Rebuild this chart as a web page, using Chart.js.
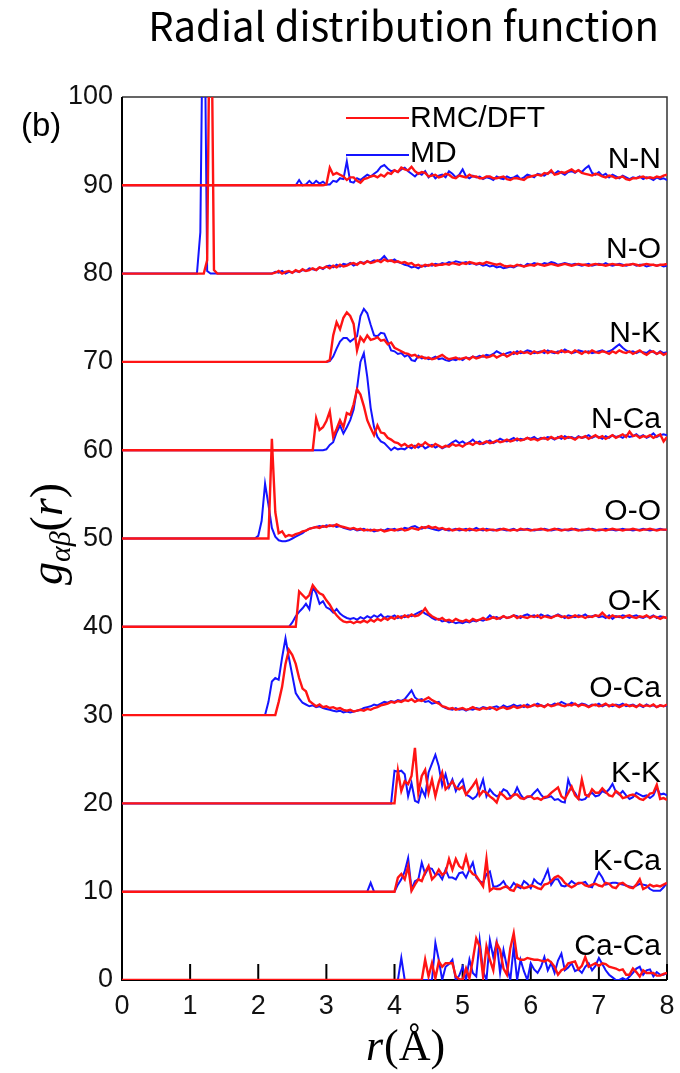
<!DOCTYPE html>
<html>
<head>
<meta charset="utf-8">
<script src="https://cdn.jsdelivr.net/npm/chart.js@4.4.1/dist/chart.umd.min.js"></script>
<style>
  html, body { margin: 0; padding: 0; background: #fff; }
  #wrap { width: 680px; height: 1073px; }
</style>
</head>
<body>
<div id="wrap"><canvas id="rdf" width="680" height="1073"></canvas></div>
<script>
// sampling step of every curve (Å)
const STEP = 0.05;

const pairs = ['N-N', 'N-O', 'N-K', 'N-Ca', 'O-O', 'O-K', 'O-Ca', 'K-K', 'K-Ca', 'Ca-Ca'];
const offsets = [90, 80, 70, 60, 50, 40, 30, 20, 10, 0];
const xTicks = [0, 1, 2, 3, 4, 5, 6, 7, 8];
const yTicks = [0, 10, 20, 30, 40, 50, 60, 70, 80, 90, 100];

// each curve: list of [start r, g values every STEP], baseline (g = 0) before it
const NN_RMC = [[2.9, [0, 0,
  0.1, 2.0, 1.2, 1.4, 1.2, 1.0, 0.6, 0.9, 0.9, 0.5, 0.3, 0.7, 0.8, 1.0, 1.1, 0.9, 1.2, 1.0, 1.4, 1.3,
  1.7, 1.5, 2.0, 1.8, 1.7, 2.1, 1.6, 1.3, 1.5, 1.4, 1.0, 1.1, 1.2, 0.9, 1.0, 1.3, 1.2, 0.9, 0.8, 1.1,
  1.0, 0.9, 1.2, 1.0, 1.0, 0.8, 0.8, 1.0, 1.0, 0.8, 0.8, 0.9, 1.0, 0.7, 0.6, 0.8, 0.8, 0.7, 0.6, 0.9,
  1.0, 1.1, 1.2, 1.1, 1.4, 1.3, 1.7, 1.2, 1.3, 1.5, 1.4, 1.6, 1.8, 1.5, 1.7, 1.4, 1.3, 1.2, 1.1, 1.3,
  1.2, 1.0, 0.9, 1.1, 1.0, 0.8, 0.9, 1.0, 0.7, 0.6, 0.8, 0.8, 0.9, 1.0, 0.8, 0.9, 0.8, 1.0, 0.9, 1.1,
  1.2]]];
const NN_MD = [[2.5, [0, 0, 0.6, 0, 0.1, 0.5, 0.1, 0.5, 0.2, 0.4,
  0.1, 0.1, 0.5, 0.4, 0.8, 0.7, 2.7, 0.4, 0.3, 0.8, 0.6, 0.9, 1.2, 1.0, 1.3, 1.6, 2.1, 2.3, 1.9, 1.6,
  1.7, 1.5, 1.8, 2.0, 1.6, 1.3, 1.0, 1.4, 1.2, 1.6, 0.9, 1.3, 0.8, 1.1, 1.2, 0.9, 1.6, 1.3, 0.9, 1.2,
  1.8, 1.0, 0.8, 1.1, 0.9, 1.0, 0.7, 0.9, 0.8, 0.6, 1.0, 0.8, 0.7, 1.0, 0.8, 0.9, 1.1, 0.7, 0.9, 1.2,
  1.1, 0.9, 1.3, 1.2, 1.1, 1.4, 1.5, 1.3, 1.6, 1.4, 1.2, 1.5, 1.6, 1.4, 1.7, 1.5, 1.9, 2.2, 1.4, 1.2,
  1.5, 1.1, 1.3, 0.9, 1.2, 1.0, 0.8, 1.1, 0.9, 0.7, 0.9, 0.8, 1.0, 0.7, 0.9, 0.8, 0.6, 0.9, 0.7, 0.8,
  0.6]]];

const NO_RMC = [[1.2, [0, 1.5, 40, 0.4, 0]], [2.2, [0, 0.1, 0.3, 0.0, 0.2, 0.3, 0.1, 0.4, 0.2, 0.5, 0.3, 0.4, 0.6, 0.4, 0.7, 0.6,
  0.8, 0.6, 0.9, 0.7, 1.0, 0.8, 0.9, 1.1, 1.2, 1.0, 1.3, 1.1, 1.4, 1.2, 1.3, 1.5, 1.3, 1.6, 1.4, 1.5,
  1.3, 1.4, 1.2, 1.3, 1.1, 1.2, 0.9, 1.0, 0.8, 1.0, 0.9, 1.1, 0.9, 1.0, 1.0, 1.1, 1.0, 1.2, 1.1, 1.0,
  1.2, 1.1, 1.3, 1.2, 1.1, 1.2, 1.1, 1.3, 1.2, 1.1, 1.0, 1.1, 0.9, 0.8, 0.9, 0.8, 1.0, 0.9, 0.8, 0.9,
  1.0, 0.9, 1.1, 1.0, 0.9, 1.0, 1.1, 1.0, 0.9, 1.0, 1.1, 1.0, 0.9, 1.0, 1.1, 1.0, 1.0, 0.9, 1.0, 1.1,
  1.0, 1.0, 0.9, 1.0, 1.1, 1.0, 1.0, 0.9, 1.0, 1.0, 1.1, 1.0, 0.9, 1.0, 1.1, 1.0, 1.0, 0.9, 1.0, 1.0,
  1.1]]];
const NO_MD = [[1.1, [0, 4.7, 40, 0.3, 0]], [2.2, [0, 0.2, 0.1, 0.3, 0.0, 0.2, 0.1, 0.3, 0.2, 0.4, 0.3, 0.6, 0.5, 0.4, 0.7, 0.5,
  0.8, 0.9, 0.7, 1.0, 0.8, 1.1, 1.0, 1.2, 0.9, 1.1, 1.3, 1.2, 1.4, 1.3, 1.5, 1.4, 1.6, 2.0, 1.5, 1.4,
  1.6, 1.3, 1.2, 1.0, 0.9, 0.7, 0.8, 0.6, 0.9, 0.8, 1.0, 0.9, 1.1, 1.0, 1.2, 1.1, 1.3, 1.2, 1.4, 1.3,
  1.2, 1.3, 1.1, 1.2, 1.0, 1.1, 0.9, 1.0, 0.8, 0.9, 0.7, 0.8, 0.6, 0.7, 0.8, 0.7, 0.9, 1.0, 0.8, 1.1,
  1.0, 1.2, 1.1, 1.0, 1.2, 1.1, 1.3, 1.2, 1.0, 1.1, 1.2, 1.1, 1.0, 1.1, 1.0, 0.9, 1.0, 1.1, 0.9, 1.0,
  1.1, 1.0, 1.2, 1.0, 0.9, 1.0, 1.1, 1.0, 0.9, 1.0, 1.1, 0.9, 1.0, 1.0, 0.8, 0.9, 1.0, 0.9, 1.0, 0.8,
  0.9]]];

const NK_RMC = [[3.0, [0, 0.2, 3.0, 4.5, 3.7, 5.0, 5.6, 5.2, 4.3, 1.3, 2.8, 2.3, 3.0, 2.5, 2.6, 2.8, 2.4, 2.5, 2.0, 2.2,
  1.6, 1.4, 1.2, 1.0, 0.9, 0.7, 0.8, 0.5, 0.6, 0.4, 0.5, 0.3, 0.4, 0.6, 0.8, 0.5, 0.3, 0.4, 0.5, 0.3,
  0.4, 0.5, 0.3, 0.6, 0.4, 0.5, 0.7, 0.5, 0.6, 0.8, 0.5, 0.7, 0.9, 0.6, 0.8, 1.1, 0.9, 1.2, 1.0, 1.1,
  0.9, 1.2, 1.0, 1.1, 1.3, 1.0, 1.2, 1.1, 1.0, 1.3, 1.1, 1.2, 1.0, 1.3, 1.1, 0.9, 1.2, 1.0, 1.3, 1.1,
  1.0, 1.2, 1.1, 0.9, 1.2, 1.0, 1.3, 1.1, 1.0, 1.2, 0.9, 1.1, 1.3, 1.0, 0.8, 1.1, 1.2, 0.9, 1.1, 0.8,
  1.0]]];
const NK_MD = [[3.0, [0, 0.1, 0.6, 1.5, 2.3, 2.7, 2.7, 2.3, 2.6, 2.9, 5.2, 6.0, 5.5, 4.2, 3.0, 2.9, 3.3, 3.2, 2.3, 1.3,
  1.2, 0.9, 1.0, 0.6, 0.8, 0.2, 0.1, 0.7, 0.4, 0.5, 0.3, 0.4, 0.6, 0.3, 0.4, 0.2, 0.1, 0.3, 0.2, 0.4,
  0.2, 0.5, 0.4, 0.6, 0.5, 0.7, 0.6, 0.8, 0.7, 0.9, 1.2, 1.0, 0.8, 1.0, 1.1, 0.9, 1.2, 1.0, 1.1, 1.3,
  1.2, 1.0, 1.1, 1.2, 1.0, 1.3, 1.1, 1.0, 1.2, 1.1, 1.4, 1.2, 1.0, 1.1, 1.3, 1.2, 1.1, 1.2, 1.0, 1.1,
  1.2, 1.3, 1.1, 1.2, 1.4, 1.7, 2.0, 1.6, 1.3, 1.1, 1.2, 1.0, 1.2, 1.1, 1.0, 1.3, 1.1, 0.9, 1.2, 1.0,
  1.1]]];

const NCa_RMC = [[2.8, [0, 3.6, 2.3, 2.6,
  3.3, 4.4, 1.5, 2.4, 3.4, 2.6, 4.2, 4.0, 5.2, 6.9, 6.3, 5.0, 3.4, 2.5, 1.7, 2.8, 2.0, 1.9, 1.4, 1.2,
  0.9, 0.8, 0.5, 0.7, 0.4, 0.6, 0.3, 0.7, 0.5, 0.9, 0.6, 0.4, 0.7, 0.5, 0.3, 0.5, 0.4, 0.7, 0.5, 0.6,
  0.4, 0.7, 0.8, 0.6, 0.9, 0.7, 0.8, 1.0, 0.8, 0.9, 1.1, 0.9, 1.0, 1.2, 1.0, 1.1, 1.3, 1.1, 1.2, 1.4,
  1.2, 1.3, 1.1, 1.3, 1.4, 1.2, 1.5, 1.3, 1.4, 1.6, 1.3, 1.5, 1.4, 1.2, 1.5, 1.4, 1.6, 1.3, 1.5, 1.7,
  1.4, 1.6, 1.3, 1.5, 1.7, 1.4, 1.6, 1.8, 1.5, 2.1, 1.6, 1.7, 1.4, 1.6, 1.5, 1.7, 1.4, 1.6, 1.8, 1.0,
  1.5]]];
const NCa_MD = [[2.95, [0,
  0.1, 0.6, 0.9, 2.0, 2.8, 1.9, 2.6, 3.4, 4.6, 7.0, 10.0, 11.0, 8.3, 4.8, 2.6, 1.5, 1.0, 0.8, 0.4, 0.0,
  0.3, 0.1, 0.2, 0.1, 0.4, 0.2, 0.5, 0.3, 0.6, 0.2, 0.4, 0.6, 0.3, 0.5, 0.2, 0.4, 0.6, 0.9, 1.1, 0.8,
  1.0, 0.7, 0.9, 1.2, 0.8, 1.0, 0.7, 0.9, 1.1, 0.8, 1.0, 1.3, 1.1, 1.0, 1.2, 1.4, 1.1, 1.3, 1.2, 1.4,
  1.3, 1.5, 1.2, 1.4, 1.3, 1.5, 1.4, 1.2, 1.5, 1.3, 1.6, 1.4, 1.5, 1.3, 1.6, 1.4, 1.5, 1.7, 1.4, 1.6,
  1.5, 1.3, 1.6, 1.4, 1.7, 1.5, 1.6, 1.4, 1.7, 1.5, 1.6, 1.8, 1.5, 1.7, 1.4, 1.6, 1.9, 1.5, 1.7, 1.8,
  1.7]]];

const OO_RMC = [[2.1, [0, 0, 11.3, 3.0, 0.6, 0.8, 0.2, 0.4, 0.3, 0.5, 0.6, 0.8, 0.9, 1.1, 1.2, 1.3, 1.2, 1.4,
  1.3, 1.5, 1.4, 1.6, 1.4, 1.3, 1.2, 1.1, 1.2, 1.0, 1.1, 0.9, 1.0, 0.9, 1.0, 0.9, 1.0, 0.8, 0.9, 1.0,
  0.9, 1.0, 1.1, 0.9, 1.0, 1.2, 1.1, 1.0, 1.3, 1.2, 1.4, 1.2, 1.3, 1.1, 1.2, 1.0, 1.1, 0.9, 1.0, 1.1,
  1.0, 0.9, 1.1, 1.0, 0.9, 1.0, 1.1, 0.9, 1.0, 1.0, 0.9, 1.0, 1.1, 1.0, 0.9, 1.0, 0.9, 1.1, 1.0, 1.0,
  0.9, 1.0, 1.0, 1.1, 1.0, 0.9, 1.0, 1.1, 1.0, 0.9, 1.0, 1.0, 1.1, 1.0, 0.9, 1.0, 1.0, 1.1, 1.0, 0.9,
  1.0, 1.0, 0.9, 1.0, 1.1, 1.0, 1.0, 0.9, 1.0, 1.0, 1.1, 1.0, 0.9, 1.0, 1.0, 1.1, 1.0, 0.9, 1.0, 1.0,
  1.0]]];
const OO_MD = [[1.95, [0,
  0.3, 2.0, 6.2, 3.8, 1.2, 0.2, -0.2, -0.3, -0.3, -0.2, 0.0, 0.2, 0.4, 0.6, 0.9, 1.1, 1.2, 1.3, 1.4, 1.3,
  1.5, 1.4, 1.5, 1.3, 1.4, 1.2, 1.1, 1.0, 1.1, 0.9, 1.0, 1.1, 0.9, 1.0, 0.8, 0.9, 1.0, 0.9, 1.1, 1.0,
  1.1, 0.9, 1.0, 1.2, 1.1, 1.3, 1.4, 1.2, 1.1, 1.3, 1.2, 1.1, 1.0, 0.9, 1.1, 1.0, 0.9, 1.0, 1.1, 0.9,
  1.0, 1.1, 0.9, 1.0, 1.2, 1.0, 0.9, 1.1, 1.0, 0.9, 1.0, 1.1, 1.0, 0.9, 1.0, 1.1, 0.9, 1.0, 1.0, 1.1,
  1.0, 0.9, 1.0, 1.0, 1.1, 1.0, 0.9, 1.0, 1.1, 1.0, 1.0, 0.9, 1.0, 1.1, 1.0, 0.9, 1.0, 1.0, 1.1, 1.0,
  0.9, 1.0, 1.1, 1.0, 1.0, 0.9, 1.0, 1.1, 1.0, 1.0, 0.9, 1.0, 1.0, 1.1, 1.0, 0.9, 1.0, 1.0, 1.1, 1.0,
  1.0]]];

const OK_RMC = [[2.55, [0, 4.0, 3.6, 3.2, 3.6, 4.7, 4.2, 3.8, 3.6,
  3.0, 2.5, 1.8, 1.3, 0.9, 0.6, 0.5, 0.6, 0.4, 0.6, 0.5, 0.7, 0.5, 0.8, 0.6, 0.9, 0.7, 1.0, 0.8, 1.1,
  0.9, 1.2, 1.0, 1.3, 1.1, 1.4, 1.2, 1.3, 1.6, 2.1, 1.5, 1.2, 1.0, 0.8, 1.0, 0.7, 0.8, 0.6, 0.9, 0.7,
  0.6, 0.8, 0.6, 0.9, 0.7, 0.8, 1.0, 0.8, 0.9, 1.1, 0.9, 1.0, 1.2, 1.0, 1.1, 1.3, 1.0, 1.2, 1.1, 1.0,
  1.2, 1.1, 1.3, 1.0, 1.2, 1.1, 1.0, 1.2, 1.3, 1.1, 1.2, 1.0, 1.1, 1.3, 1.1, 1.2, 1.0, 1.2, 1.1, 1.3,
  1.2, 1.6, 1.2, 1.0, 1.3, 1.1, 1.2, 1.0, 1.2, 1.3, 1.1, 1.0, 1.2, 1.1, 1.3, 1.0, 1.2, 1.1, 0.9, 1.1,
  1.0]]];
const OK_MD = [[2.45, [0, 0.5, 1.2, 1.7, 2.1, 2.6, 2.0, 4.5, 3.8, 2.6, 2.9,
  2.2, 2.0, 1.6, 2.0, 1.5, 1.2, 1.0, 0.9, 1.0, 0.8, 1.1, 0.9, 1.2, 1.0, 1.3, 1.1, 1.4, 1.0, 1.2, 1.1,
  1.3, 1.0, 1.2, 1.1, 1.3, 1.2, 1.4, 1.6, 1.8, 1.5, 1.3, 1.0, 0.8, 0.9, 0.6, 0.7, 0.5, 0.6, 0.4, 0.5,
  0.4, 0.6, 0.5, 0.7, 0.6, 0.8, 0.7, 0.9, 1.3, 1.0, 1.1, 0.9, 1.2, 1.0, 1.1, 1.3, 1.2, 1.0, 1.3, 1.4,
  1.2, 1.3, 1.1, 1.4, 1.2, 1.3, 1.1, 1.2, 1.4, 1.2, 1.0, 1.3, 1.2, 1.1, 1.3, 1.2, 1.4, 1.1, 1.2, 1.3,
  1.1, 1.2, 1.0, 1.3, 0.9, 1.2, 1.1, 1.3, 1.2, 1.0, 1.2, 1.3, 1.1, 1.0, 1.2, 1.1, 1.3, 1.0, 1.2, 1.1,
  1.0]]];

const OCa_RMC = [[2.25, [0, 1.5, 3.2, 5.8, 7.4, 6.8, 5.8, 4.2, 3.0, 2.7, 1.6, 1.3, 1.0, 1.2, 0.9,
  1.0, 0.8, 0.9, 0.7, 0.8, 0.6, 0.5, 0.6, 0.4, 0.5, 0.6, 0.5, 0.7, 0.6, 0.8, 0.9, 1.1, 1.2, 1.3, 1.5,
  1.4, 1.6, 1.5, 1.7, 1.6, 1.8, 1.5, 1.7, 1.6, 1.8, 2.0, 1.7, 1.5, 1.3, 1.0, 0.9, 0.7, 0.8, 0.6, 0.7,
  0.8, 0.6, 0.7, 0.9, 0.7, 0.6, 0.8, 0.7, 0.9, 0.8, 0.6, 0.8, 0.9, 0.7, 0.8, 1.0, 0.8, 0.9, 1.1, 0.9,
  1.0, 1.2, 1.0, 1.1, 0.9, 1.2, 1.0, 1.1, 1.3, 1.1, 1.0, 1.2, 1.1, 1.3, 1.0, 1.2, 1.1, 0.9, 1.1, 1.2,
  1.0, 1.1, 1.3, 1.0, 1.2, 1.1, 0.9, 1.1, 1.2, 1.0, 1.1, 0.9, 1.2, 1.0, 1.1, 1.0, 1.2, 0.9, 1.1, 1.0,
  1.2]]];
const OCa_MD = [[2.1, [0, 1.5, 3.8, 4.2, 4.0, 6.5, 8.7, 6.5, 4.5, 2.5, 1.9, 1.4, 1.2, 1.0, 1.1, 0.9, 1.0, 0.8,
  0.7, 0.6, 0.5, 0.4, 0.5, 0.3, 0.4, 0.3, 0.4, 0.5, 0.6, 0.8, 0.9, 1.0, 1.2, 1.1, 1.3, 1.5, 1.4, 1.6,
  1.5, 1.7, 1.6, 1.8, 2.3, 2.8, 2.0, 1.7, 1.8, 1.5, 1.6, 1.3, 1.4, 1.5, 1.0, 0.8, 0.7, 0.6, 0.8, 0.6,
  0.7, 0.5, 0.7, 0.6, 0.8, 0.7, 0.9, 0.8, 0.7, 0.9, 1.0, 0.8, 1.1, 0.9, 1.0, 1.2, 1.0, 1.1, 0.9, 1.2,
  1.0, 1.1, 1.3, 1.1, 1.0, 1.2, 1.1, 1.3, 1.2, 1.5, 1.3, 1.1, 1.4, 1.2, 1.1, 1.3, 1.2, 1.0, 1.2, 1.1,
  1.3, 1.0, 1.2, 1.1, 1.0, 1.2, 1.1, 1.3, 1.0, 1.1, 1.2, 1.0, 1.1, 0.9, 1.2, 1.0, 1.1, 0.9, 1.1, 1.0,
  1.1]]];

const KK_RMC = [[4.0, [
  0, 3.7, 1.4, 2.5, 2.2, 3.1, 6.3, 1.2, 3.1, 3.8, 1.2, 2.7, 0.8, 2.4, 3.5, 1.6, 2.0, 2.5, 1.8, 1.6,
  1.9, 1.0, 1.5, 2.0, 2.6, 0.9, 1.4, 1.2, 0.8, 0.5, 0.1, 1.2, 0.9, 0.5, 0.6, 1.0, 1.0, 0.6, 0.5, 0.8,
  0.8, 0.5, 0.6, 0.4, 0.7, 0.8, 1.2, 1.5, 1.8, 0.8, 0.5, 1.2, 1.9, 0.9, 0.5, 2.7, 1.0, 0.8, 1.6, 1.2,
  1.2, 1.7, 1.3, 0.9, 0.8, 1.4, 1.1, 0.6, 0.7, 0.9, 1.0, 0.8, 0.5, 0.4, 0.7, 1.1, 1.2, 2.1, 0.5, 0.6,
  0.4]]];
const KK_MD = [[3.95, [0,
  3.7, 3.6, 3.7, 3.3, 0.8, 2.3, 0.3, 0.1, 1.6, 0.8, 3.5, 4.5, 5.5, 4.2, 2.0, 3.3, 1.8, 2.7, 1.4, 2.2,
  2.7, 1.0, 0.8, 0.5, 0.8, 1.6, 2.7, 0.8, 1.6, 1.1, 0.8, 1.0, 1.6, 1.4, 0.8, 0.9, 1.8, 1.0, 0.5, 0.7,
  0.8, 1.2, 1.6, 1.0, 0.6, 0.7, 0.8, 0.4, 0.5, 0.2, 0.1, 2.7, 1.6, 1.2, 0.5, 0.4, 0.5, 1.0, 1.2, 0.8,
  0.9, 1.4, 1.2, 1.6, 2.2, 1.3, 1.0, 1.4, 0.9, 0.5, 0.7, 1.2, 1.0, 0.8, 0.9, 0.6, 0.9, 1.8, 1.0, 1.1,
  0.9]]];

const KCa_RMC = [[4.0, [
  0, 1.6, 2.0, 1.4, 2.9, 0.1, 0.8, 1.4, 1.2, 2.2, 2.9, 1.4, 1.8, 2.5, 1.9, 2.2, 3.7, 2.5, 3.7, 2.9,
  2.6, 4.0, 2.5, 2.0, 1.8, 1.2, 0.6, 3.7, 0.1, 0.4, 0.3, 0.3, 0.5, 0.6, 0.2, 0.1, 0.8, 0.6, 0.4, 0.5,
  0.7, 0.6, 0.4, 0.3, 0.8, 0.9, 1.2, 1.6, 1.8, 1.5, 1.0, 0.7, 0.5, 0.7, 1.0, 1.0, 0.7, 0.6, 0.8, 0.9,
  0.7, 0.6, 1.0, 0.9, 0.5, 0.4, 0.9, 1.0, 0.7, 0.5, 0.4, 0.8, 1.4, 0.3, 0.5, 0.8, 0.6, 0.7, 0.6, 0.8,
  1.0]]];
const KCa_MD = [[3.6, [0, 1.0, 0]], [4.0, [
  0, 0.8, 1.4, 2.3, 3.8, 0.3, 1.2, 1.4, 3.3, 2.0, 2.7, 2.6, 1.9, 2.0, 1.4, 2.5, 1.6, 1.6, 1.4, 2.1,
  2.2, 1.6, 2.5, 3.3, 1.6, 1.2, 1.0, 2.0, 2.3, 0.6, 0.6, 0.8, 1.2, 0.5, 0.4, 1.0, 0.6, 0.4, 1.2, 0.9,
  0.4, 1.4, 1.0, 0.8, 1.6, 2.5, 0.8, 1.4, 1.4, 0.7, 0.6, 0.8, 1.2, 0.9, 0.9, 1.0, 1.1, 0.6, 0.5, 1.4,
  2.2, 1.6, 0.8, 0.9, 1.0, 1.0, 0.9, 0.8, 0.7, 0.6, 0.5, 0.7, 0.9, 0.8, 0.7, 0.3, 0.1, 0.1, 0.1, 0.5,
  1.0]]];

const CaCa_RMC = [[4.4, [0, 2.3, 0.4, 1.9, 0.2, 2.1, 1.5, 1.9, 1.9, 1.9, 0.4, 0.1,
  0, 1.3, 0.2, 2.3, 4.7, 3.8, 0.4, 3.8, 2.3, 1.1, 4.2, 3.4, 1.3, 0.6, 3.6, 5.3, 2.5, 2.3, 2.3, 2.5,
  2.4, 2.3, 2.3, 2.2, 2.1, 2.3, 2.0, 1.5, 0.6, 1.1, 1.3, 1.9, 2.0, 2.1, 1.2, 1.6, 2.6, 1.5, 1.7, 1.9,
  1.6, 1.9, 1.8, 1.5, 1.4, 1.3, 1.1, 1.2, 0.6, 0.6, 1.3, 0.9, 0.4, 1.1, 0.8, 0.8, 0.8, 0.5, 0.5, 0.7,
  0.8]]];
const CaCa_MD = [[4.05, [0, 2.5, 0]], [4.55, [0, 4.2, 2.3, 0, 1.5, 1.8, 2.3, 0, 0.5,
  1.5, 0, 2.3, 0.8, 0.4, 4.5, 1.0, 0, 4.5, 2.6, 4.3, 0.8, 3.4, 1.5, 0, 3.8, 0, 2.3, 1.0, 0,
  1.9, 1.2, 0.8, 1.5, 2.6, 1.1, 1.9, 0.8, 2.2, 3.0, 1.1, 1.4, 1.9, 1.0, 1.2, 0.8, 1.5, 1.9, 1.1, 1.6,
  2.5, 1.8, 1.1, 0.6, 0.3, 0, 0, 0.2, 0, 0.4, 0.8, 1.3, 1.5, 0.6, 1.1, 1.2, 0.4, 0.9, 0.6, 0.6,
  0.8]]];

const rmcCurves = [NN_RMC, NO_RMC, NK_RMC, NCa_RMC, OO_RMC, OK_RMC, OCa_RMC, KK_RMC, KCa_RMC, CaCa_RMC];
const mdCurves = [NN_MD, NO_MD, NK_MD, NCa_MD, OO_MD, OK_MD, OCa_MD, KK_MD, KCa_MD, CaCa_MD];

const RED = '#ff1414';
const BLUE = '#1414ff';

function toPoints(chunks, offset) {
  const pts = [{ x: 0, y: offset }];
  chunks.forEach(([r0, vals]) => {
    vals.forEach((g, i) => pts.push({ x: +(r0 + i * STEP).toFixed(3), y: offset + g }));
  });
  return pts;
}

function curve(chunks, offset, color, width, order) {
  return {
    data: toPoints(chunks, offset),
    showLine: true,
    borderColor: color,
    borderWidth: width,
    pointRadius: 0,
    tension: 0,
    order
  };
}

// lower order is painted last, so red sits on top of blue as in the figure
const datasets = [];
rmcCurves.forEach((c, i) => datasets.push(curve(c, offsets[i], RED, 2.4, 1)));
mdCurves.forEach((c, i) => datasets.push(curve(c, offsets[i], BLUE, 2, 2)));

const labelLift = [2.0, 1.8, 2.3, 2.5, 2.1, 1.9, 2.0, 2.4, 2.5, 2.8];

const decor = {
  id: 'decor',
  beforeDatasetsDraw(chart) {
    const { ctx, chartArea: a, scales } = chart;
    ctx.save();
    // frame
    ctx.strokeStyle = '#333';
    ctx.lineWidth = 1.5;
    ctx.beginPath();
    ctx.moveTo(a.left, a.top); ctx.lineTo(a.right, a.top); ctx.lineTo(a.right, a.bottom);
    ctx.stroke();
    ctx.strokeStyle = '#000';
    ctx.lineWidth = 2;
    ctx.beginPath();
    ctx.moveTo(a.left, a.top); ctx.lineTo(a.left, a.bottom); ctx.lineTo(a.right, a.bottom);
    ctx.stroke();
    // inward ticks on the r axis
    xTicks.forEach(t => {
      const x = scales.x.getPixelForValue(t);
      ctx.beginPath();
      ctx.moveTo(x, a.bottom); ctx.lineTo(x, a.bottom - 16);
      ctx.stroke();
    });
    ctx.restore();
  },
  afterDraw(chart) {
    const { ctx, scales } = chart;
    ctx.save();
    ctx.fillStyle = '#000';
    // title
    ctx.font = '40px "Noto Sans CJK JP", "Noto Sans", sans-serif';
    ctx.textAlign = 'right';
    ctx.textBaseline = 'alphabetic';
    ctx.fillText('Radial distribution function', 659, 41);
    // panel tag
    ctx.font = '33px "Liberation Sans", Arial, sans-serif';
    ctx.textAlign = 'left';
    ctx.fillText('(b)', 21, 136);
    // legend
    ctx.lineWidth = 2;
    ctx.strokeStyle = RED;
    ctx.beginPath(); ctx.moveTo(346, 118); ctx.lineTo(409, 118); ctx.stroke();
    ctx.strokeStyle = BLUE;
    ctx.beginPath(); ctx.moveTo(346, 155); ctx.lineTo(409, 155); ctx.stroke();
    ctx.font = '30px "Liberation Sans", Arial, sans-serif';
    ctx.fillText('RMC/DFT', 410, 127);
    ctx.fillText('MD', 410, 162);
    // pair labels
    ctx.textAlign = 'right';
    pairs.forEach((p, i) => {
      const y = scales.y.getPixelForValue(offsets[i] + labelLift[i]);
      ctx.fillText(p, 661, y);
    });
    // x title r(Å)
    const serif = '"Liberation Serif", "DejaVu Serif", serif';
    ctx.textAlign = 'left';
    let x = 366;
    const yb = 1060;
    ctx.font = 'italic 44px ' + serif;
    ctx.fillText('r', x, yb); x += ctx.measureText('r').width + 1;
    ctx.font = '44px ' + serif;
    ctx.fillText('(Å)', x, yb);
    // y title g_ab(r), rotated
    ctx.translate(62, 534);
    ctx.rotate(-Math.PI / 2);
    const parts = [
      ['g', 'italic 46px ' + serif, 0],
      ['αβ', 'italic 30px ' + serif, 8],
      ['(', '46px ' + serif, 0],
      ['r', 'italic 46px ' + serif, 0],
      [')', '46px ' + serif, 0]
    ];
    let total = 0;
    parts.forEach(([t, f]) => { ctx.font = f; total += ctx.measureText(t).width; });
    let px = -total / 2;
    parts.forEach(([t, f, dy]) => {
      ctx.font = f;
      ctx.fillText(t, px, dy);
      px += ctx.measureText(t).width;
    });
    ctx.restore();
  }
};

new Chart(document.getElementById('rdf'), {
  type: 'scatter',
  data: { datasets },
  options: {
    responsive: false,
    devicePixelRatio: 1,
    animation: false,
    layout: { padding: { left: 0, top: 97, right: 13, bottom: 0 } },
    plugins: { legend: { display: false }, title: { display: false }, tooltip: { enabled: false } },
    scales: {
      x: {
        type: 'linear', min: 0, max: 8,
        afterFit(s) { s.height = 93; },
        afterBuildTicks(s) { s.ticks = xTicks.map(v => ({ value: v })); },
        grid: { display: false },
        border: { display: false },
        ticks: { color: '#111', padding: 2, font: { family: '"Liberation Sans", Arial, sans-serif', size: 27 } }
      },
      y: {
        type: 'linear', min: 0, max: 100,
        afterFit(s) { s.width = 122; },
        afterBuildTicks(s) { s.ticks = yTicks.map(v => ({ value: v })); },
        grid: { display: false },
        border: { display: false },
        ticks: { color: '#111', padding: 1, font: { family: '"Liberation Sans", Arial, sans-serif', size: 27 } }
      }
    }
  },
  plugins: [decor]
});
</script>
</body>
</html>
